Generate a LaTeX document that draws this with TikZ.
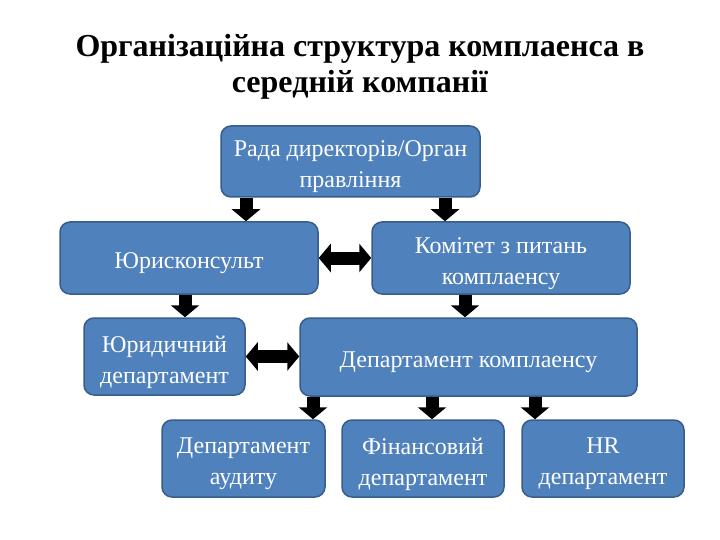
\documentclass[tikz,border=0pt]{standalone}
\usepackage{fontspec}
\setmainfont{Liberation Serif}
\usetikzlibrary{arrows.meta,positioning}
\definecolor{boxblue}{HTML}{4F81BD}
\definecolor{boxedge}{HTML}{385D8A}

\tikzset{
  unit/.style={draw=boxedge, line width=1.5pt, fill=boxblue, rounded corners=10pt, inner sep=0pt},
  unittext/.style={text=white, align=center, inner sep=0pt, yshift=-5.5pt,
    font=\fontsize{24}{31}\selectfont},
  downarrow/.style={line width=13pt, -{Triangle[length=12pt,width=28pt]}},
  twoarrow/.style={line width=13pt, {Triangle[length=12pt,width=28pt]}-{Triangle[length=12pt,width=28pt]}}
}

\begin{document}
\begin{tikzpicture}[x=1pt,y=-1pt]
\useasboundingbox (0,0) rectangle (720,540);

\node[align=center, font=\bfseries\fontsize{32}{36}\selectfont] (title) at (360,67)
  {Організаційна структура комплаенса в\\середній компанії};

\node[unit, minimum width=259pt, minimum height=71pt,
  label={[unittext]center:{Рада директорів/Орган\\правління}}] (rada) at (350.5,161.5) {};
\node[unit, minimum width=258pt, minimum height=72pt,
  label={[unittext]center:{Юрисконсульт}}] (jur) at (189,258) {};
\node[unit, minimum width=258pt, minimum height=72pt,
  label={[unittext]center:{Комітет з питань\\комплаенсу}}] (komitet) at (501,258) {};
\node[unit, minimum width=161pt, minimum height=77pt,
  label={[unittext]center:{Юридичний\\департамент}}] (jurdep) at (164.5,356.5) {};
\node[unit, minimum width=337pt, minimum height=78pt,
  label={[unittext]center:{Департамент комплаенсу}}] (kompl) at (468.5,357) {};
\node[unit, minimum width=163pt, minimum height=77pt,
  label={[unittext]center:{Департамент\\аудиту}}] (audyt) at (243.5,458.5) {};
\node[unit, minimum width=162pt, minimum height=77pt,
  label={[unittext]center:{Фінансовий\\департамент}}] (fin) at (423,458.5) {};
\node[unit, minimum width=162pt, minimum height=77pt,
  label={[unittext]center:{HR\\департамент}}] (hr) at (603,458.5) {};

% arrows between levels
\draw[downarrow] (246,0 |- rada.south) -- (246,0 |- jur.north);
\draw[downarrow] (445,0 |- rada.south) -- (445,0 |- komitet.north);
\draw[downarrow] (185,0 |- jur.south) -- (185,0 |- jurdep.north);
\draw[downarrow] (465,0 |- komitet.south) -- (465,0 |- kompl.north);
\draw[downarrow] (313,0 |- kompl.south) -- (313,0 |- audyt.north);
\draw[downarrow] (432,0 |- kompl.south) -- (432,0 |- fin.north);
\draw[downarrow] (535,0 |- kompl.south) -- (535,0 |- hr.north);

\draw[twoarrow] (jur.east) -- (komitet.west);
\draw[twoarrow] (jurdep.east) -- (jurdep.east -| kompl.west);

\end{tikzpicture}
\end{document}
